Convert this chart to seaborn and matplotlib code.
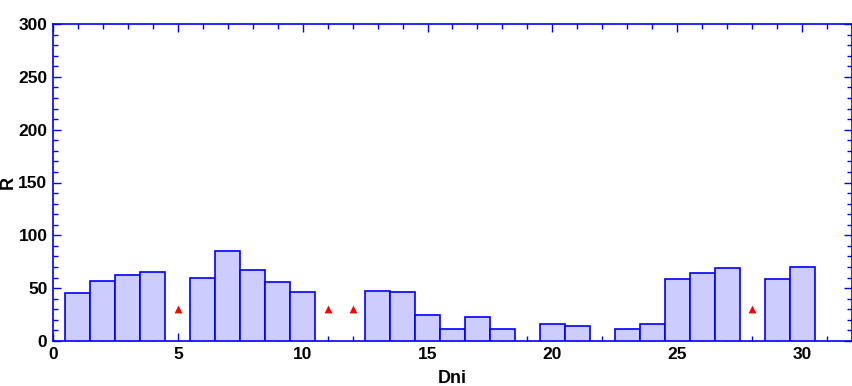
import matplotlib
matplotlib.use("Agg")
import matplotlib.pyplot as plt
from matplotlib.ticker import MultipleLocator
import seaborn as sns
import pandas as pd

# Bars (Dni -> R)
dni = [1, 2, 3, 4, 6, 7, 8, 9, 10, 13, 14, 15, 16, 17, 18, 20, 21, 23, 24, 25, 26, 27, 29, 30]
r_values = [45, 56.5, 62, 65, 60, 85, 67, 55.5, 46, 47.5, 46.5, 25, 11, 22.5, 11, 16, 14, 11, 16, 58.5, 64, 69, 58.5, 70.5]
# Red triangle markers
tri_dni = [5, 11, 12, 28]
tri_r = [30, 30, 30, 30]

sns.set_theme(style="white")
plt.rcParams['font.family'] = ['Liberation Sans', 'DejaVu Sans']

fig = plt.figure(figsize=(8.53, 3.86), dpi=100)
ax = fig.add_axes([53/853, 45/386, 799/853, 317/386])

df = pd.DataFrame({"Dni": dni, "R": r_values})
sns.barplot(data=df, x="Dni", y="R", native_scale=True, width=1.0,
            color="#CCCCFF", saturation=1, edgecolor="#0000FF", linewidth=1.2, ax=ax, zorder=3)
for p in ax.patches:
    p.set_facecolor("#CCCCFF")

tri = pd.DataFrame({"Dni": tri_dni, "R": tri_r})
sns.scatterplot(data=tri, x="Dni", y="R", marker="^", color="red", s=32,
                edgecolor="red", linewidth=0, ax=ax, zorder=4)

ax.set_xlim(0, 32)
ax.set_ylim(0, 300)
ax.xaxis.set_major_locator(MultipleLocator(5))
ax.xaxis.set_minor_locator(MultipleLocator(1))
ax.yaxis.set_major_locator(MultipleLocator(50))
ax.yaxis.set_minor_locator(MultipleLocator(10))

for s in ax.spines.values():
    s.set_color("#0000FF")
    s.set_linewidth(1.2)
    s.set_visible(True)

ax.tick_params(which="both", direction="in", top=True, right=True, bottom=True, left=True,
               color="#0000FF", width=1.0, labelsize=12.5, labelcolor="black", pad=4)
ax.tick_params(which="major", length=6)
ax.tick_params(which="minor", length=3.5)
for lbl in ax.get_xticklabels() + ax.get_yticklabels():
    lbl.set_fontweight("bold")

ax.set_xlabel("Dni", fontsize=13, fontweight="bold", color="black", labelpad=6)
ax.set_ylabel("R", fontsize=13, fontweight="bold", color="black")
ax.yaxis.set_label_coords(-0.045, 0.5)
ax.grid(False)

fig.savefig("out.png", dpi=100)
